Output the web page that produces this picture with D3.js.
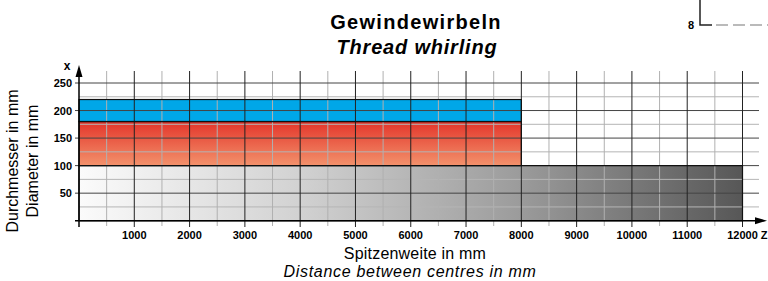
<!DOCTYPE html>
<html>
<head>
<meta charset="utf-8">
<script src="https://cdn.jsdelivr.net/npm/d3@7"></script>
<style>
  body { margin: 0; background: #fff; }
  svg { display: block; font-family: Arial, "Liberation Sans", sans-serif; }
</style>
</head>
<body>
<svg width="768" height="281"></svg>
<script>
// ranges: [x from, x to, diameter from, diameter to]
const bandNames = ['base', 'red', 'blue'];
const bandZ = [[0, 12000], [0, 8000], [0, 8000]];
const bandX = [[0, 100], [100, 180], [180, 220]];

const xTicks = [1000, 2000, 3000, 4000, 5000, 6000, 7000, 8000, 9000, 10000, 11000, 12000];
const yTicks = [50, 100, 150, 200, 250];

const svg = d3.select('svg');

const x = d3.scaleLinear().domain([0, 12000]).range([79, 742.5]);
const y = d3.scaleLinear().domain([0, 250]).range([220.7, 83]);

const defs = svg.append('defs');

const grayGrad = defs.append('linearGradient')
  .attr('id', 'gray').attr('x1', 0).attr('x2', 1).attr('y1', 0).attr('y2', 0);
grayGrad.append('stop').attr('offset', 0).attr('stop-color', '#fbfbfb');
grayGrad.append('stop').attr('offset', 0.33).attr('stop-color', '#d2d2d2');
grayGrad.append('stop').attr('offset', 0.66).attr('stop-color', '#9c9c9c');
grayGrad.append('stop').attr('offset', 1).attr('stop-color', '#575757');

const redGrad = defs.append('linearGradient')
  .attr('id', 'red').attr('x1', 0).attr('x2', 0).attr('y1', 0).attr('y2', 1);
redGrad.append('stop').attr('offset', 0).attr('stop-color', '#e3352a');
redGrad.append('stop').attr('offset', 1).attr('stop-color', '#f3926c');

const fills = { base: 'url(#gray)', red: 'url(#red)', blue: '#00a7e8' };

// bands
svg.append('g')
  .selectAll('rect')
  .data(bandNames)
  .enter()
  .append('rect')
  .attr('x', (d, i) => x(bandZ[i][0]))
  .attr('width', (d, i) => x(bandZ[i][1]) - x(bandZ[i][0]))
  .attr('y', (d, i) => y(bandX[i][1]))
  .attr('height', (d, i) => y(bandX[i][0]) - y(bandX[i][1]))
  .attr('fill', d => fills[d]);

// grid
const grid = svg.append('g');
const minorX = d3.range(500, 12500, 1000);
const minorY = d3.range(25, 250, 50);

grid.selectAll('.hminor')
  .data(minorY)
  .enter()
  .append('line')
  .attr('x1', 79).attr('x2', 759)
  .attr('y1', d => y(d)).attr('y2', d => y(d))
  .attr('stroke', '#b5b5b5').attr('stroke-width', 1);

grid.selectAll('.vminor')
  .data(minorX)
  .enter()
  .append('line')
  .attr('x1', d => x(d)).attr('x2', d => x(d))
  .attr('y1', 71).attr('y2', 226)
  .attr('stroke', '#b0b0b0').attr('stroke-width', 1);

grid.selectAll('.hmajor')
  .data(yTicks)
  .enter()
  .append('line')
  .attr('x1', 75).attr('x2', 759)
  .attr('y1', d => y(d)).attr('y2', d => y(d))
  .attr('stroke', '#444').attr('stroke-width', 1);

grid.selectAll('.vmajor')
  .data(xTicks)
  .enter()
  .append('line')
  .attr('x1', d => x(d)).attr('x2', d => x(d))
  .attr('y1', 71).attr('y2', 227)
  .attr('stroke', '#222').attr('stroke-width', 1);

// band outlines
svg.append('g')
  .selectAll('rect')
  .data(bandNames)
  .enter()
  .append('rect')
  .attr('x', (d, i) => x(bandZ[i][0]))
  .attr('width', (d, i) => x(bandZ[i][1]) - x(bandZ[i][0]))
  .attr('y', (d, i) => y(bandX[i][1]))
  .attr('height', (d, i) => y(bandX[i][0]) - y(bandX[i][1]))
  .attr('fill', 'none')
  .attr('stroke', '#111')
  .attr('stroke-width', 1.2);

// axes with arrows
const axes = svg.append('g');
axes.append('line')
  .attr('x1', 75).attr('x2', 760)
  .attr('y1', y(0)).attr('y2', y(0))
  .attr('stroke', '#000').attr('stroke-width', 1.5);
axes.append('line')
  .attr('x1', x(0)).attr('x2', x(0))
  .attr('y1', 227).attr('y2', 72)
  .attr('stroke', '#000').attr('stroke-width', 1.5);
axes.append('path')
  .attr('d', `M767,${y(0)} L755,${y(0) - 3.5} L755,${y(0) + 3.5} Z`)
  .attr('fill', '#000');
axes.append('path')
  .attr('d', `M${x(0)},65 L${x(0) - 3.5},77 L${x(0) + 3.5},77 Z`)
  .attr('fill', '#000');

// tick labels
svg.append('g')
  .selectAll('text')
  .data(xTicks)
  .enter()
  .append('text')
  .attr('x', d => x(d))
  .attr('y', 239)
  .attr('text-anchor', 'middle')
  .attr('font-size', 11)
  .attr('font-weight', 'bold')
  .text(d => d);

svg.append('g')
  .selectAll('text')
  .data(yTicks)
  .enter()
  .append('text')
  .attr('x', 72)
  .attr('y', d => y(d) + 4)
  .attr('text-anchor', 'end')
  .attr('font-size', 11)
  .attr('font-weight', 'bold')
  .text(d => d);

svg.append('text')
  .attr('x', 67).attr('y', 70)
  .attr('text-anchor', 'middle')
  .attr('font-size', 12).attr('font-weight', 'bold')
  .text('x');
svg.append('text')
  .attr('x', 764).attr('y', 239)
  .attr('text-anchor', 'middle')
  .attr('font-size', 11).attr('font-weight', 'bold')
  .text('Z');

// titles
svg.append('text')
  .attr('x', 416).attr('y', 29)
  .attr('text-anchor', 'middle')
  .attr('font-size', 20).attr('font-weight', 'bold')
  .attr('letter-spacing', 1.3)
  .text('Gewindewirbeln');
svg.append('text')
  .attr('x', 417).attr('y', 54)
  .attr('text-anchor', 'middle')
  .attr('font-size', 20).attr('font-weight', 'bold').attr('font-style', 'italic')
  .attr('letter-spacing', 0.8)
  .text('Thread whirling');

svg.append('text')
  .attr('x', 415).attr('y', 259)
  .attr('text-anchor', 'middle')
  .attr('font-size', 16)
  .attr('letter-spacing', 0.2)
  .text('Spitzenweite in mm');
svg.append('text')
  .attr('x', 410).attr('y', 277)
  .attr('text-anchor', 'middle')
  .attr('font-size', 16).attr('font-style', 'italic')
  .attr('letter-spacing', 0.7)
  .text('Distance between centres in mm');

svg.append('text')
  .attr('transform', 'translate(18,161) rotate(-90)')
  .attr('text-anchor', 'middle')
  .attr('font-size', 16)
  .text('Durchmesser in mm');
svg.append('text')
  .attr('transform', 'translate(38,161) rotate(-90)')
  .attr('text-anchor', 'middle')
  .attr('font-size', 16)
  .text('Diameter in mm');

// corner fragment (top right)
const corner = svg.append('g');
corner.append('text')
  .attr('x', 691).attr('y', 29)
  .attr('text-anchor', 'middle')
  .attr('font-size', 11).attr('font-weight', 'bold')
  .text('8');
corner.append('path')
  .attr('d', 'M700,0 L700,25 L712,25')
  .attr('fill', 'none').attr('stroke', '#222').attr('stroke-width', 1.5);
corner.append('line')
  .attr('x1', 716).attr('x2', 768).attr('y1', 25).attr('y2', 25)
  .attr('stroke', '#777').attr('stroke-width', 1.2)
  .attr('stroke-dasharray', '12,5');
</script>
</body>
</html>
